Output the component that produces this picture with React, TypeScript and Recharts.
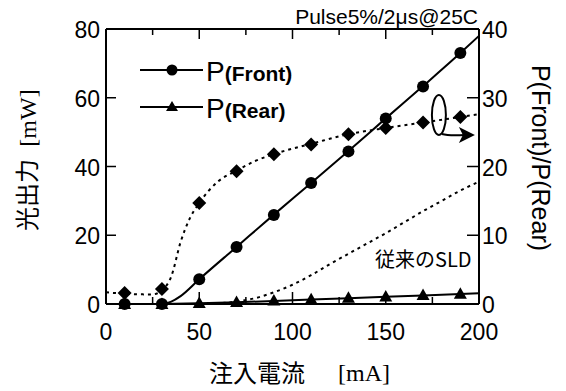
import React from "react";
import {
  ComposedChart,
  Line,
  Scatter,
  XAxis,
  YAxis,
  ReferenceDot,
} from "recharts";

// measured points (current mA)
const currents = [10, 30, 50, 70, 90, 110, 130, 150, 170, 190];
const frontPower = [0, 0, 7.2, 16.6, 25.9, 35.2, 44.4, 54.0, 63.3, 73.0];
const rearPower = [0, 0, 0.3, 0.6, 1.0, 1.4, 1.8, 2.2, 2.6, 2.95];
const frontRearRatio = [1.6, 2.2, 14.7, 19.3, 21.8, 23.2, 24.7, 25.6, 26.4, 27.2];

// fitted curves
const frontFitX = [0, 30, 35, 40, 50, 70, 90, 110, 130, 150, 170, 190, 200];
const frontFitY = [0, 0, 0.7, 2.3, 7.2, 16.6, 26.0, 35.2, 44.5, 54.0, 63.4, 73.0, 78.0];
const rearFitX = [0, 30, 50, 70, 90, 110, 130, 150, 170, 190, 200];
const rearFitY = [0, 0, 0.2, 0.5, 0.9, 1.3, 1.7, 2.1, 2.5, 2.9, 3.1];
const ratioFitX = [0, 10, 20, 25, 30, 35, 40, 45, 50, 60, 70, 80, 90, 100, 110, 130, 150, 170, 190, 200];
const ratioFitY = [1.7, 1.5, 1.4, 1.4, 2.0, 4.0, 9.0, 12.5, 14.7, 17.8, 19.4, 20.8, 21.8, 22.6, 23.3, 24.7, 25.6, 26.4, 27.2, 27.6];
// conventional SLD (right axis)
const sldX = [55, 60, 70, 80, 90, 100, 110, 120, 130, 140, 150, 160, 170, 180, 190, 200];
const sldY = [0, 0.1, 0.35, 0.85, 1.7, 2.8, 4.2, 5.8, 7.3, 8.8, 10.3, 11.9, 13.5, 15.0, 16.5, 17.8];

const xTicks = [0, 25, 50, 75, 100, 125, 150, 175, 200];
const leftTicks = [0, 20, 40, 60, 80];
const rightTicks = [0, 10, 20, 30, 40];

const zip = (xs: number[], ys: number[]) => xs.map((x, i) => ({ x, y: ys[i] }));

const frontPts = zip(currents, frontPower);
const rearPts = zip(currents, rearPower);
const ratioPts = zip(currents, frontRearRatio);
const frontFit = zip(frontFitX, frontFitY);
const rearFit = zip(rearFitX, rearFitY);
const ratioFit = zip(ratioFitX, ratioFitY);
const sldFit = zip(sldX, sldY);

const NUM_FONT = "'Liberation Sans', Arial, sans-serif";
const JP_FONT = "'Noto Sans CJK JP', sans-serif";
const SERIF = "'Liberation Serif', serif";

const BottomTick = (props: any) => {
  const { x, y, payload } = props;
  const v = payload.value;
  const major = v % 50 === 0;
  return (
    <g>
      {v > 0 && v < 200 && (
        <line x1={x} x2={x} y1={y} y2={y - (major ? 12 : 7)} stroke="#000" strokeWidth={1.5} />
      )}
      {major && (
        <text x={x} y={y + 36} textAnchor="middle" fontSize={23} fontFamily={NUM_FONT} fill="#000">
          {v}
        </text>
      )}
    </g>
  );
};

const TopTick = (props: any) => {
  const { x, y, payload } = props;
  const v = payload.value;
  if (v <= 0 || v >= 200) return <g />;
  const major = v % 50 === 0;
  return <line x1={x} x2={x} y1={y} y2={y + (major ? 10 : 6)} stroke="#000" strokeWidth={1.5} />;
};

const LeftTick = (props: any) => {
  const { x, y, payload } = props;
  const v = payload.value;
  return (
    <g>
      {v > 0 && v < 80 && <line x1={x} x2={x + 10} y1={y} y2={y} stroke="#000" strokeWidth={1.5} />}
      <text x={x - 6} y={y + 9} textAnchor="end" fontSize={23} fontFamily={NUM_FONT} fill="#000">
        {v}
      </text>
    </g>
  );
};

const RightTick = (props: any) => {
  const { x, y, payload } = props;
  const v = payload.value;
  return (
    <g>
      {v > 0 && v < 40 && <line x1={x} x2={x - 12} y1={y} y2={y} stroke="#000" strokeWidth={1.5} />}
      <text x={x + 3} y={y + 9} textAnchor="start" fontSize={23} fontFamily={NUM_FONT} fill="#000">
        {v}
      </text>
    </g>
  );
};

const Dot = (p: any) => <circle cx={p.cx} cy={p.cy} r={6} fill="#000" />;
const Tri = (p: any) => (
  <path d={`M${p.cx},${p.cy - 6.5} L${p.cx + 6.5},${p.cy + 5} L${p.cx - 6.5},${p.cy + 5} Z`} fill="#000" />
);
const Diamond = (p: any) => (
  <path d={`M${p.cx},${p.cy - 7} L${p.cx + 7},${p.cy} L${p.cx},${p.cy + 7} L${p.cx - 7},${p.cy} Z`} fill="#000" />
);

// ellipse + arrow pointing to the right axis
const AxisPointer = (p: any) => {
  const { cx, cy } = p;
  return (
    <g>
      <ellipse cx={cx} cy={cy} rx={7} ry={20} fill="none" stroke="#000" strokeWidth={2} />
      <path d={`M${cx + 3},${cy + 19} Q${cx + 10},${cy + 21} ${cx + 26},${cy + 20}`} fill="none" stroke="#000" strokeWidth={2} />
      <path d={`M${cx + 20},${cy + 12} L${cx + 36},${cy + 20} L${cx + 20},${cy + 28} L${cx + 24},${cy + 20} Z`} fill="#000" />
    </g>
  );
};

export default function App() {
  return (
    <div style={{ position: "absolute", left: 0, top: 0, background: "#fff" }}>
      <ComposedChart width={566} height={391} margin={{ top: 0, right: 0, bottom: 0, left: 0 }}>
        <XAxis
          xAxisId="b"
          dataKey="x"
          type="number"
          domain={[0, 200]}
          ticks={xTicks}
          interval={0}
          height={87}
          tickSize={0}
          tickMargin={0}
          tickLine={false}
          axisLine={{ stroke: "#000", strokeWidth: 2 }}
          tick={<BottomTick />}
        />
        <XAxis
          xAxisId="t"
          dataKey="x"
          type="number"
          orientation="top"
          domain={[0, 200]}
          ticks={xTicks}
          interval={0}
          height={29}
          tickSize={0}
          tickMargin={0}
          tickLine={false}
          axisLine={{ stroke: "#000", strokeWidth: 2 }}
          tick={<TopTick />}
        />
        <YAxis
          yAxisId="left"
          dataKey="y"
          type="number"
          domain={[0, 80]}
          ticks={leftTicks}
          interval={0}
          width={106}
          tickSize={0}
          tickMargin={0}
          tickLine={false}
          axisLine={{ stroke: "#000", strokeWidth: 2 }}
          tick={<LeftTick />}
        />
        <YAxis
          yAxisId="right"
          dataKey="y"
          type="number"
          orientation="right"
          domain={[0, 40]}
          ticks={rightTicks}
          interval={0}
          width={87}
          tickSize={0}
          tickMargin={0}
          tickLine={false}
          axisLine={{ stroke: "#000", strokeWidth: 2 }}
          tick={<RightTick />}
        />

        <Line data={frontFit} xAxisId="b" yAxisId="left" dataKey="y" type="monotone" stroke="#000" strokeWidth={2} dot={false} isAnimationActive={false} />
        <Line data={rearFit} xAxisId="b" yAxisId="left" dataKey="y" type="linear" stroke="#000" strokeWidth={2} dot={false} isAnimationActive={false} />
        <Line data={ratioFit} xAxisId="b" yAxisId="right" dataKey="y" type="monotone" stroke="#000" strokeWidth={2} strokeDasharray="3 4" dot={false} isAnimationActive={false} />
        <Line data={sldFit} xAxisId="t" yAxisId="right" dataKey="y" type="monotone" stroke="#000" strokeWidth={2} strokeDasharray="3 4" dot={false} isAnimationActive={false} />

        <Scatter data={rearPts} xAxisId="b" yAxisId="left" dataKey="y" shape={<Tri />} isAnimationActive={false} />
        <Scatter data={frontPts} xAxisId="b" yAxisId="left" dataKey="y" shape={<Dot />} isAnimationActive={false} />
        <Scatter data={ratioPts} xAxisId="b" yAxisId="right" dataKey="y" shape={<Diamond />} isAnimationActive={false} />

        <ReferenceDot xAxisId="b" yAxisId="right" x={178.5} y={27.5} shape={<AxisPointer />} />

        {/* title */}
        <text x={478} y={24} textAnchor="end" fontSize={21} fontFamily={NUM_FONT}>
          Pulse5%/2μs@25C
        </text>

        {/* legend */}
        <line x1={140} x2={203} y1={70} y2={70} stroke="#000" strokeWidth={2} />
        <circle cx={172} cy={70} r={5.5} fill="#000" />
        <text x={206} y={81} fontFamily={NUM_FONT}>
          <tspan fontSize={28}>P</tspan>
          <tspan fontSize={21} fontWeight="bold">(Front)</tspan>
        </text>
        <line x1={140} x2={203} y1={107} y2={107} stroke="#000" strokeWidth={2} />
        <path d="M172,101 L178,111 L166,111 Z" fill="#000" />
        <text x={206} y={118} fontFamily={NUM_FONT}>
          <tspan fontSize={28}>P</tspan>
          <tspan fontSize={21} fontWeight="bold">(Rear)</tspan>
        </text>

        {/* conventional SLD note */}
        <text x={375} y={267} fontSize={20} fontFamily={JP_FONT}>
          従来のSLD
        </text>

        {/* axis titles */}
        <text x={209} y={382} fontSize={24} fontFamily={JP_FONT}>
          注入電流
        </text>
        <text x={338} y={381} fontSize={24} fontFamily={SERIF}>
          [mA]
        </text>
        <text transform="translate(36,195) rotate(-90)" textAnchor="middle" fontSize={24} fontFamily={JP_FONT}>
          光出力
        </text>
        <text transform="translate(36,118) rotate(-90)" textAnchor="middle" fontSize={24} fontFamily={SERIF}>
          [mW]
        </text>
        <text transform="translate(532,158) rotate(90)" textAnchor="middle" fontSize={25} fontFamily={NUM_FONT}>
          P(Front)/P(Rear)
        </text>
      </ComposedChart>
    </div>
  );
}
